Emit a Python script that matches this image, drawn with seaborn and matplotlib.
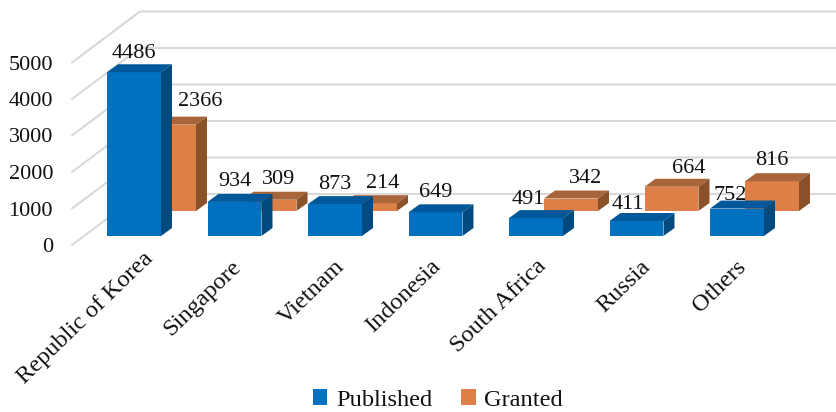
import numpy as np
import pandas as pd
import seaborn as sns
import matplotlib
matplotlib.use("Agg")
import matplotlib.pyplot as plt
from matplotlib.patches import Polygon, Patch
from matplotlib.transforms import Affine2D

categories = ["Republic of Korea", "Singapore", "Vietnam", "Indonesia",
              "South Africa", "Russia", "Others"]
published = [4486, 934, 873, 649, 491, 411, 752]
granted = [2366, 309, 214, np.nan, 342, 664, 816]
y_ticks = [0, 1000, 2000, 3000, 4000, 5000]

# geometry of the pseudo-3D view, in pixels
W, H = 836, 412
PX_PER_UNIT = 0.0365
PX_PER_CAT = 100.5
X0 = 134
Y0 = 245
LEFT = 60
BAR_W = 0.537
DEPTH = (11, 8)
WALL = (68, 51)
PUB_SHIFT = (0, 9)
GRA_SHIFT = (35, 34)

# label nudges relative to the top of each bar, in pixels (dx, dy up)
pub_nudge = [(0, 11), (0, 12), (0, 12), (0, 12), (-8, 11), (-9, 8), (-7, 5)]
gra_nudge = [(31, 15), (9, 12), (13, 12), (0, 0), (15, 12), (17, 10), (0, 13)]
# category label nudges, in pixels (dx, dy up)
cat_nudge = [(9, -3), (-4, -11), (-1, -11), (-5, -11), (0, -11), (4, -11), (-1, -11)]

sns.set_theme(style="white")
plt.rcParams["font.family"] = ["Liberation Serif", "DejaVu Serif"]
TXT = "#111111"
FS = 16
FS_CAT = 17.6

fig = plt.figure(figsize=(W / 100, H / 100), dpi=100)
ax = fig.add_axes([LEFT / W, (H - Y0) / H, (W - LEFT) / W, Y0 / H])

df = pd.DataFrame({"cat": categories, "Published": published, "Granted": granted})


def draw_series(col, face, top, side, shift, zorder, nudges):
    n0 = len(ax.patches)
    sub = df.dropna(subset=[col])
    sns.barplot(data=sub, x="cat", y=col, order=categories, color=face, saturation=1,
                width=BAR_W, ax=ax, zorder=zorder, linewidth=0)
    ddx = DEPTH[0] / PX_PER_CAT
    ddy = DEPTH[1] / PX_PER_UNIT
    tr = ax.transData + Affine2D().translate(*shift)
    bars = list(ax.patches[n0:])
    for bar, (_, row) in zip(bars, sub.iterrows()):
        bar.set_transform(tr)
        bar.set_clip_on(False)
        x0, x1 = bar.get_x(), bar.get_x() + bar.get_width()
        h = bar.get_height()
        ax.add_patch(Polygon([(x0, h), (x1, h), (x1 + ddx, h + ddy), (x0 + ddx, h + ddy)],
                             closed=True, fc=top, ec="none", transform=tr, zorder=zorder, clip_on=False))
        ax.add_patch(Polygon([(x1, 0), (x1 + ddx, ddy), (x1 + ddx, h + ddy), (x1, h)],
                             closed=True, fc=side, ec="none", transform=tr, zorder=zorder, clip_on=False))
        i = categories.index(row["cat"])
        nx, ny = nudges[i]
        ax.annotate(f"{int(h)}", xy=((x0 + x1) / 2, h + ddy), xycoords=tr,
                    xytext=(nx * 0.72, ny * 0.72), textcoords="offset points",
                    ha="center", va="center", fontsize=FS, color=TXT, zorder=10)


draw_series("Granted", "#DD8047", "#A9653A", "#8B522A", GRA_SHIFT, 3, gra_nudge)
draw_series("Published", "#0070C0", "#00589A", "#004A80", PUB_SHIFT, 4, pub_nudge)

ax.set_xlim((LEFT - X0) / PX_PER_CAT, (W - X0) / PX_PER_CAT)
ax.set_ylim(0, Y0 / PX_PER_UNIT)

# back wall gridlines and floor-side stubs
wx = WALL[0] / PX_PER_CAT
wy = WALL[1] / PX_PER_UNIT
stub_x = (72 - X0) / PX_PER_CAT
for v in y_ticks:
    ax.plot([stub_x, stub_x + wx, ax.get_xlim()[1]], [v, v + wy, v + wy],
            color="#d9d9d9", lw=1.5, zorder=1, clip_on=False, solid_joinstyle="miter")

ax.set_yticks(y_ticks)
ax.set_yticklabels([str(v) for v in y_ticks], fontsize=FS, color=TXT)
ax.set_xticks(range(len(categories)))
ax.set_xticklabels(categories, fontsize=FS_CAT, color=TXT, rotation=44, ha="right",
                   va="top", rotation_mode="anchor")
ax.tick_params(axis="both", length=0)
ax.tick_params(axis="y", pad=5)
ax.tick_params(axis="x", pad=0)
for lab, (dx, dy) in zip(ax.get_xticklabels(), cat_nudge):
    lab.set_transform(lab.get_transform() + Affine2D().translate(dx, dy))
ax.set_xlabel("")
ax.set_ylabel("")
sns.despine(ax=ax, left=True, bottom=True, top=True, right=True)

handles = [Patch(fc="#0070C0", ec="none", label="Published"),
           Patch(fc="#DD8047", ec="none", label="Granted")]
fig.legend(handles=handles, loc="center", bbox_to_anchor=(438 / W, 1 - 400 / H), ncol=2,
           frameon=False, fontsize=FS_CAT, handlelength=0.58, handleheight=0.58,
           handletextpad=0.36, columnspacing=1.2, labelcolor=TXT, borderpad=0)

fig.savefig("out.png", dpi=100, facecolor="white")
